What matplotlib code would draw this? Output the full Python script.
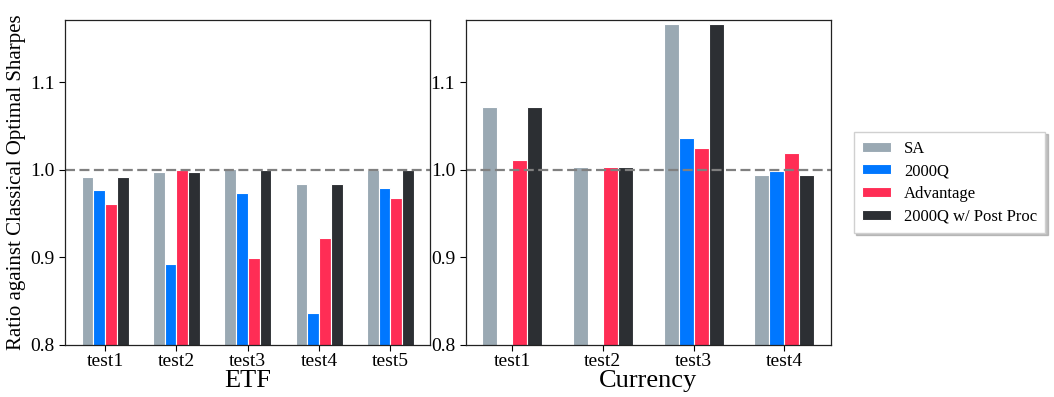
import numpy as np
from matplotlib import pyplot as plt

# ratio of each solver's Sharpe ratio to the classical optimum
etf_tests = ['test1', 'test2', 'test3', 'test4', 'test5']
etf_sa = [0.992, 0.997, 1.001, 0.984, 1.000]
etf_2000q = [0.977, 0.893, 0.973, 0.836, 0.979]
etf_advantage = [0.961, 1.000, 0.899, 0.922, 0.968]
etf_postproc = [0.992, 0.997, 1.000, 0.984, 1.000]

cur_tests = ['test1', 'test2', 'test3', 'test4']
cur_sa = [1.0715, 1.003, 1.166, 0.994]
cur_2000q = [0.0, 0.0, 1.0365, 0.999]
cur_advantage = [1.011, 1.003, 1.025, 1.019]
cur_postproc = [1.0715, 1.003, 1.166, 0.994]

labels = ['SA', '2000Q', 'Advantage', '2000Q w/ Post Proc']
colors = ['#9aa9b3', '#0077ff', '#ff2d55', '#2c2f33']

plt.rcParams['font.family'] = ['Liberation Serif', 'DejaVu Serif']

width = 0.165


def draw(ax, tests, series, xlabel):
    x = np.arange(len(tests))
    for i, (vals, c, lab) in enumerate(zip(series, colors, labels)):
        ax.bar(x + (i - 1.5) * width, vals, width, color=c, label=lab,
               edgecolor='white', linewidth=0.8)
    ax.axhline(1.0, color='#808080', linestyle='--', linewidth=1.6, dashes=(4.5, 2))
    ax.set_xticks(x)
    ax.set_xticklabels(tests, fontsize=14)
    ax.set_ylim(0.8, 1.171)
    ax.set_yticks([0.8, 0.9, 1.0, 1.1])
    ax.tick_params(axis='y', labelsize=14, length=4, width=0.8)
    ax.tick_params(axis='x', length=4, width=0.8, pad=2)
    ax.set_xlabel(xlabel, fontsize=19, labelpad=0)
    for s in ax.spines.values():
        s.set_linewidth(0.9)
        s.set_color('#222222')


fig, (ax1, ax2) = plt.subplots(1, 2, figsize=(10.54, 3.97), dpi=100)
fig.subplots_adjust(left=0.0617, right=0.7884, top=0.9496, bottom=0.131, wspace=0.096)

draw(ax1, etf_tests, [etf_sa, etf_2000q, etf_advantage, etf_postproc], 'ETF')
draw(ax2, cur_tests, [cur_sa, cur_2000q, cur_advantage, cur_postproc], 'Currency')
ax1.set_ylabel('Ratio against Classical Optimal Sharpes', fontsize=15, labelpad=3)

ax2.legend(loc='center left', bbox_to_anchor=(1.063, 0.5), borderaxespad=0,
           fontsize=12, fancybox=False, edgecolor='#d0d0d0', framealpha=1,
           shadow={'color': '#999999', 'alpha': 0.6, 'ox': 1.5, 'oy': -1.5},
           handlelength=1.75, handleheight=0.55, handletextpad=0.75,
           borderpad=0.5, labelspacing=0.4)

fig.savefig('out.png', dpi=100)
